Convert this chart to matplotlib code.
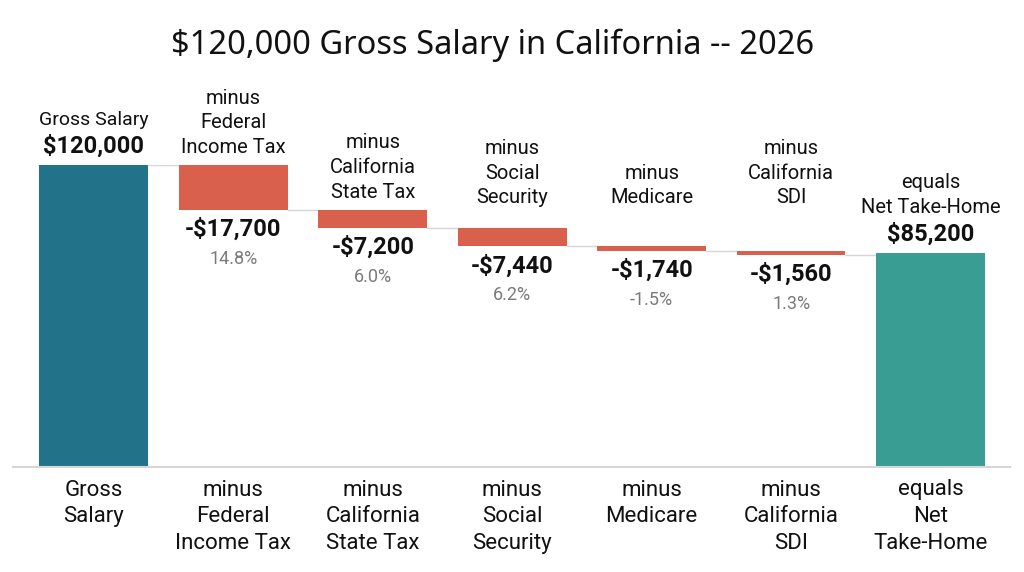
import matplotlib.pyplot as plt

# data
gross = 120000
net = 85200
deduction_names = ["Federal\nIncome Tax", "California\nState Tax", "Social\nSecurity",
                   "Medicare", "California\nSDI"]
deductions = [17700, 7200, 7440, 1740, 1560]
deduction_pct = ["14.8%", "6.0%", "6.2%", "-1.5%", "1.3%"]
tick_labels = ["Gross\nSalary", "minus\nFederal\nIncome Tax", "minus\nCalifornia\nState Tax",
               "minus\nSocial\nSecurity", "minus\nMedicare", "minus\nCalifornia\nSDI",
               "equals\nNet\nTake-Home"]

c_gross = "#22738A"
c_minus = "#D9604C"
c_net = "#3A9D94"
c_line = "#D6D6D6"

plt.rcParams['font.family'] = ['Roboto', 'DejaVu Sans']

fig = plt.figure(figsize=(10.24, 5.72), dpi=100)
ax = fig.add_axes([13 / 1024, 105 / 572, 997 / 1024, 302 / 572])

w = 0.78
n = len(deductions) + 2

# start bar
ax.bar(0, gross, width=w, color=c_gross)
ax.annotate(f"${gross:,.0f}", (0, gross), xytext=(0, 7), textcoords='offset pixels',
            ha='center', va='bottom', fontsize=17, fontweight='bold', color='#111111')
ax.annotate("Gross Salary", (0, gross), xytext=(0, 36), textcoords='offset pixels',
            ha='center', va='bottom', fontsize=14, color='#111111')

level = gross
for k, (name, d, pct) in enumerate(zip(deduction_names, deductions, deduction_pct)):
    i = k + 1
    top = level
    bottom = level - d
    # connector from previous bar
    ax.plot([i - 1 + w / 2, i - w / 2], [top, top], color=c_line, lw=1, zorder=1)
    ax.bar(i, d, bottom=bottom, width=w, color=c_minus, zorder=2)
    ax.annotate("minus\n" + name, (i, max(top, 100000)), xytext=(0, 8),
                textcoords='offset pixels', ha='center', va='bottom', fontsize=14.5,
                color='#111111', linespacing=1.38)
    ax.annotate(f"-${d:,.0f}", (i, bottom), xytext=(0, -8), textcoords='offset pixels',
                ha='center', va='top', fontsize=17, fontweight='bold', color='#111111')
    ax.annotate(pct, (i, bottom), xytext=(0, -40), textcoords='offset pixels',
                ha='center', va='top', fontsize=13, color='#7A7A7A')
    level = bottom

# end bar
ax.plot([n - 2 + w / 2, n - 1 - w / 2], [level, level], color=c_line, lw=1, zorder=1)
ax.bar(n - 1, net, width=w, color=c_net)
ax.annotate(f"${net:,.0f}", (n - 1, net), xytext=(0, 7), textcoords='offset pixels',
            ha='center', va='bottom', fontsize=17, fontweight='bold', color='#111111')
ax.annotate("equals\nNet Take-Home", (n - 1, net), xytext=(0, 36), textcoords='offset pixels',
            ha='center', va='bottom', fontsize=14.5, color='#111111', linespacing=1.38)

ax.set_xlim(-0.58, n - 1 + 0.57)
ax.set_ylim(0, gross)
ax.set_xticks(range(n))
ax.set_xticklabels(tick_labels, fontsize=16, color='#111111', linespacing=1.35, va='top')
ax.tick_params(axis='x', length=0, pad=9)
ax.set_yticks([])
for s in ['top', 'right', 'left']:
    ax.spines[s].set_visible(False)
ax.spines['bottom'].set_color(c_line)
ax.spines['bottom'].set_linewidth(1.5)

fig.text(493 / 1024, 1 - 45 / 572, "$120,000 Gross Salary in California -- 2026",
         ha='center', va='center', fontsize=23.5, family=['Noto Sans', 'DejaVu Sans'],
         color='#111111')

fig.savefig("out.png", dpi=100, facecolor='white')
